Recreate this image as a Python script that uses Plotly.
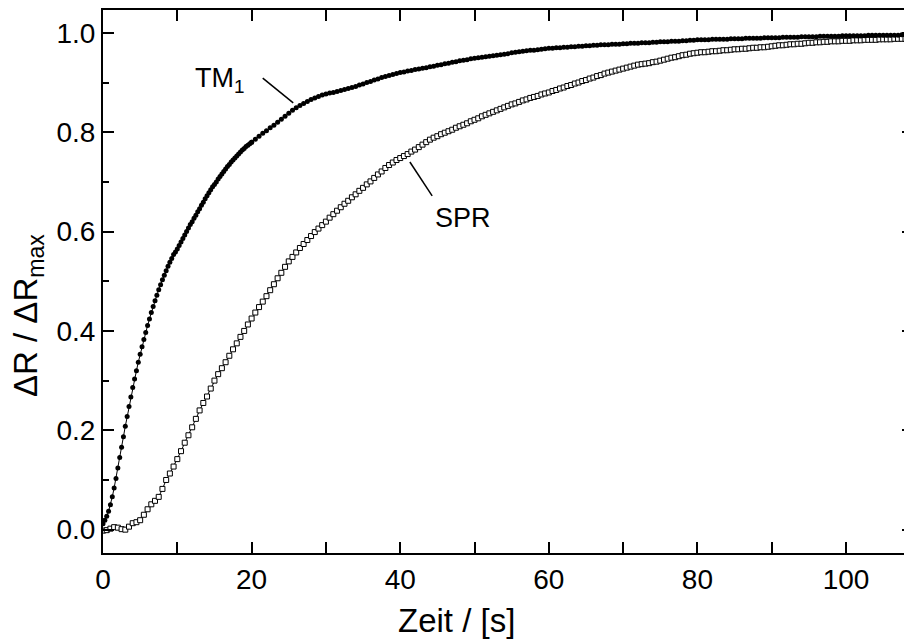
import plotly.graph_objects as go

# ---------------- data ----------------
# TM1, sampled every 0.25 s from t = 0 s to t = 20 s
tm1_early_t0 = 0.0
tm1_early_dt = 0.25
tm1_early = [
    0.012, 0.019, 0.027, 0.037, 0.050, 0.066, 0.084, 0.103, 0.124, 0.145,
    0.166, 0.187, 0.208, 0.228, 0.248, 0.267, 0.286, 0.303, 0.320, 0.337,
    0.353, 0.368, 0.383, 0.397, 0.411, 0.424, 0.437, 0.449, 0.461, 0.472,
    0.483, 0.493, 0.503, 0.512, 0.521, 0.530, 0.538, 0.546, 0.554, 0.559,
    0.565, 0.572, 0.579, 0.586, 0.593, 0.600, 0.607, 0.614, 0.620, 0.627,
    0.633, 0.640, 0.646, 0.653, 0.659, 0.666, 0.672, 0.678, 0.684, 0.690,
    0.695, 0.700, 0.706, 0.711, 0.716, 0.721, 0.726, 0.731, 0.735, 0.740,
    0.744, 0.748, 0.752, 0.756, 0.760, 0.764, 0.767, 0.771, 0.774, 0.777,
    0.780,
]
# TM1, sampled every 0.5 s from t = 20 s to t = 108 s
tm1_late_t0 = 20.0
tm1_late_dt = 0.5
tm1_late = [
    0.780, 0.786, 0.792, 0.798, 0.803, 0.809, 0.814, 0.820, 0.826, 0.832,
    0.838, 0.844, 0.849, 0.854, 0.858, 0.862, 0.866, 0.869, 0.872, 0.875,
    0.877, 0.879, 0.880, 0.882, 0.884, 0.886, 0.888, 0.890, 0.892, 0.895,
    0.897, 0.900, 0.902, 0.905, 0.907, 0.910, 0.912, 0.914, 0.916, 0.918,
    0.920, 0.921, 0.923, 0.924, 0.926, 0.927, 0.929, 0.930, 0.932, 0.933,
    0.935, 0.936, 0.938, 0.939, 0.941, 0.942, 0.944, 0.945, 0.946, 0.948,
    0.949, 0.950, 0.951, 0.952, 0.953, 0.954, 0.955, 0.956, 0.957, 0.958,
    0.960, 0.961, 0.962, 0.963, 0.964, 0.965, 0.965, 0.966, 0.967, 0.968,
    0.969, 0.969, 0.970, 0.970, 0.971, 0.971, 0.972, 0.972, 0.973, 0.973,
    0.974, 0.974, 0.975, 0.975, 0.976, 0.976, 0.976, 0.977, 0.977, 0.977,
    0.978, 0.978, 0.979, 0.979, 0.979, 0.980, 0.980, 0.980, 0.981, 0.981,
    0.982, 0.982, 0.982, 0.983, 0.983, 0.983, 0.984, 0.984, 0.985, 0.985,
    0.986, 0.986, 0.986, 0.986, 0.987, 0.987, 0.987, 0.987, 0.987, 0.988,
    0.988, 0.988, 0.988, 0.989, 0.989, 0.989, 0.989, 0.989, 0.990, 0.990,
    0.990, 0.990, 0.990, 0.991, 0.991, 0.991, 0.991, 0.991, 0.992, 0.992,
    0.992, 0.992, 0.992, 0.993, 0.993, 0.993, 0.993, 0.993, 0.993, 0.994,
    0.994, 0.994, 0.994, 0.994, 0.994, 0.994, 0.995, 0.995, 0.995, 0.995,
    0.995, 0.995, 0.995, 0.995, 0.995, 0.996, 0.996,
]
# SPR, sampled every 0.5 s from t = 0 s to t = 108 s
spr_t0 = 0.0
spr_dt = 0.5
spr = [
    -0.002, -0.001, 0.002, 0.005, 0.004, 0.001, 0.000, 0.006, 0.013, 0.015,
    0.019, 0.030, 0.041, 0.051, 0.058, 0.066, 0.082, 0.100, 0.113, 0.127,
    0.142, 0.158, 0.175, 0.190, 0.206, 0.223, 0.240, 0.255, 0.268, 0.284,
    0.300, 0.313, 0.325, 0.337, 0.350, 0.363, 0.375, 0.388, 0.400, 0.413,
    0.425, 0.437, 0.448, 0.459, 0.470, 0.482, 0.494, 0.506, 0.517, 0.529,
    0.540, 0.549, 0.558, 0.567, 0.575, 0.583, 0.591, 0.599, 0.606, 0.613,
    0.620, 0.628, 0.635, 0.642, 0.649, 0.656, 0.662, 0.669, 0.675, 0.682,
    0.688, 0.695, 0.701, 0.708, 0.715, 0.721, 0.728, 0.734, 0.739, 0.744,
    0.748, 0.752, 0.756, 0.761, 0.765, 0.770, 0.775, 0.780, 0.785, 0.789,
    0.792, 0.796, 0.799, 0.802, 0.805, 0.809, 0.812, 0.815, 0.818, 0.822,
    0.825, 0.828, 0.832, 0.835, 0.838, 0.841, 0.844, 0.847, 0.850, 0.853,
    0.856, 0.858, 0.861, 0.864, 0.866, 0.869, 0.871, 0.873, 0.876, 0.878,
    0.880, 0.883, 0.885, 0.888, 0.890, 0.893, 0.895, 0.898, 0.900, 0.903,
    0.905, 0.908, 0.910, 0.913, 0.915, 0.918, 0.920, 0.922, 0.924, 0.926,
    0.928, 0.930, 0.932, 0.934, 0.936, 0.937, 0.938, 0.939, 0.941, 0.942,
    0.944, 0.946, 0.948, 0.950, 0.951, 0.953, 0.955, 0.956, 0.958, 0.959,
    0.960, 0.961, 0.961, 0.962, 0.963, 0.963, 0.964, 0.965, 0.965, 0.966,
    0.967, 0.967, 0.968, 0.968, 0.969, 0.970, 0.970, 0.971, 0.971, 0.972,
    0.973, 0.974, 0.975, 0.975, 0.976, 0.977, 0.977, 0.978, 0.978, 0.979,
    0.980, 0.980, 0.981, 0.981, 0.982, 0.982, 0.983, 0.983, 0.983, 0.984,
    0.984, 0.984, 0.985, 0.985, 0.985, 0.986, 0.986, 0.986, 0.986, 0.987,
    0.987, 0.987, 0.987, 0.988, 0.988, 0.988, 0.988,
]

x_ticks = [0, 20, 40, 60, 80, 100]
y_ticks = [0.0, 0.2, 0.4, 0.6, 0.8, 1.0]
y_tick_text = ["0.0", "0.2", "0.4", "0.6", "0.8", "1.0"]

x_title = "Zeit / [s]"
y_title = "ΔR / ΔR<sub>max</sub>"
label_tm1 = "TM<sub>1</sub>"
label_spr = "SPR"

# ---------------- figure ----------------
FONT = "Arial, 'Liberation Sans', sans-serif"
FS_TICK = 28   # tick labels
FS = 27        # curve labels
FS_TITLE = 33  # axis titles

fig = go.Figure()

fig.add_trace(go.Scatter(
    y=spr, x0=spr_t0, dx=spr_dt, mode="lines+markers",
    line=dict(color="black", width=1),
    marker=dict(symbol="square", size=5, color="white",
                line=dict(color="black", width=1)),
    showlegend=False, hoverinfo="skip"))

for vals, t0, dt in [(tm1_early, tm1_early_t0, tm1_early_dt),
                     (tm1_late, tm1_late_t0, tm1_late_dt)]:
    fig.add_trace(go.Scatter(
        y=vals, x0=t0, dx=dt, mode="lines+markers",
        line=dict(color="black", width=1),
        marker=dict(symbol="circle", size=5, color="black"),
        showlegend=False, hoverinfo="skip"))

# empty trace to register the right-hand tick axis
fig.add_trace(go.Scatter(x=[], y=[], yaxis="y2", showlegend=False))

common_tick = dict(ticks="inside", tickwidth=2, tickcolor="black",
                   showgrid=False, zeroline=False)

fig.update_layout(
    width=904, height=642,
    margin=dict(l=103, r=0, t=10, b=89),
    paper_bgcolor="white", plot_bgcolor="white",
    font=dict(family=FONT, size=FS, color="black"),
    xaxis=dict(range=[0, 107.8], tickvals=x_ticks, ticklen=11,
               showline=True, linewidth=2, linecolor="black",
               mirror="allticks",
               minor=dict(dtick=10, tick0=0, ticks="inside", ticklen=6,
                          tickwidth=2, tickcolor="black"),
               tickfont=dict(size=FS_TICK), **common_tick),
    yaxis=dict(range=[-0.047, 1.046], tickvals=y_ticks, ticktext=y_tick_text,
               ticklen=11, showline=True, linewidth=2, linecolor="black",
               mirror=False,
               minor=dict(dtick=0.1, tick0=0, ticks="inside", ticklen=6,
                          tickwidth=2, tickcolor="black"),
               tickfont=dict(size=FS_TICK), **common_tick),
    yaxis2=dict(range=[-0.047, 1.046], overlaying="y", side="right",
                anchor="x", tickvals=y_ticks, ticklen=2,
                showticklabels=False, showline=False, **common_tick),
    annotations=[
        dict(text=x_title, xref="paper", yref="paper", x=0.4407, y=-0.1234,
             showarrow=False, xanchor="center", yanchor="middle",
             font=dict(size=FS_TITLE)),
        dict(text=y_title, xref="paper", yref="paper", x=-0.0936, y=0.4365,
             showarrow=False, xanchor="center", yanchor="middle",
             textangle=-90, font=dict(size=FS_TITLE)),
        dict(text=label_tm1, x=15.8, y=0.905, showarrow=False,
             xanchor="center", yanchor="middle", font=dict(size=FS)),
        dict(text=label_spr, x=48.45, y=0.628, showarrow=False,
             xanchor="center", yanchor="middle", font=dict(size=FS)),
    ],
    shapes=[
        dict(type="line", x0=21.5, y0=0.909, x1=25.6, y1=0.859,
             line=dict(color="black", width=1.5)),
        dict(type="line", x0=41.3, y0=0.740, x1=44.3, y1=0.672,
             line=dict(color="black", width=1.5)),
    ],
)

fig.write_html("out.html", config=dict(displayModeBar=False),
               post_script="document.body.style.margin='0px';"
                           "document.body.style.padding='0px';")
